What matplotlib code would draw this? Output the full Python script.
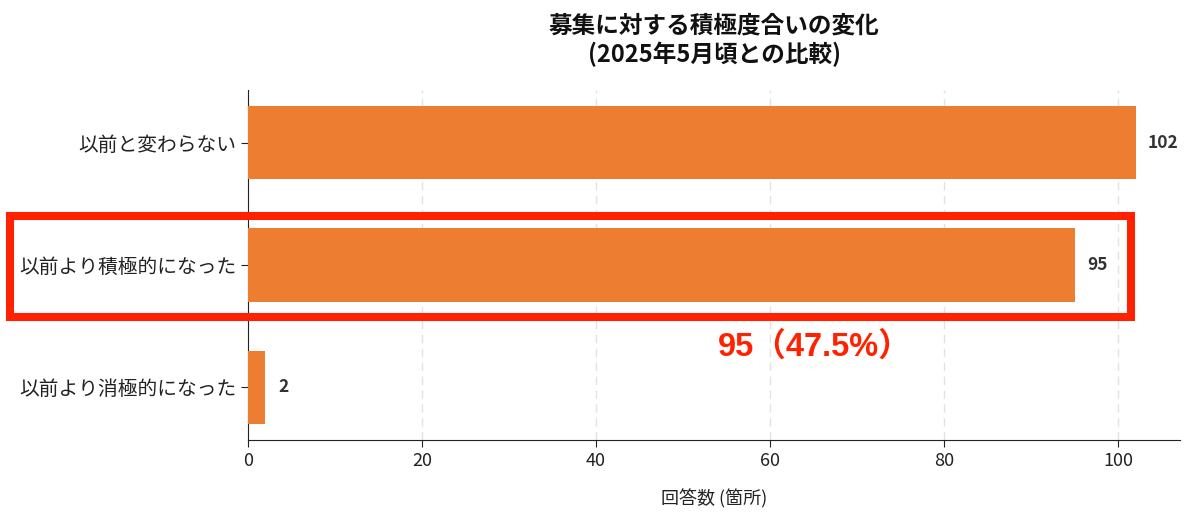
import matplotlib
matplotlib.use("Agg")
import matplotlib.pyplot as plt
from matplotlib.patches import Rectangle

plt.rcParams['font.family'] = ['Noto Sans CJK JP', 'DejaVu Sans']

categories = ["以前より消極的になった", "以前より積極的になった", "以前と変わらない"]
values = [2, 95, 102]
xticks = [0, 20, 40, 60, 80, 100]
title = "募集に対する積極度合いの変化\n(2025年5月頃との比較)"
xlabel = "回答数 (箇所)"
highlight_text = "95（47.5%）"

bar_color = "#ED7D31"
red = "#FF2200"

fig = plt.figure(figsize=(12, 5.28), dpi=100)
ax = fig.add_axes([248/1200, 1-440/528, (1180-248)/1200, (440-90)/528])

ypos = list(range(len(categories)))
ax.barh(ypos, values, height=0.6, color=bar_color, zorder=3)
ax.set_yticks(ypos)
ax.set_yticklabels(categories, fontsize=14.2, color="#222222")
ax.set_xticks(xticks)
ax.set_xticklabels([str(t) for t in xticks], fontsize=13, color="#222222")
ax.set_xlim(0, 107.1)
ax.set_ylim(-0.43, 2.43)

ax.grid(axis='x', linestyle=(0, (6, 4)), color='#e2e2e2', linewidth=1, zorder=0)
ax.set_axisbelow(True)
for s in ['top', 'right']:
    ax.spines[s].set_visible(False)
ax.spines['left'].set_color('#222222')
ax.spines['bottom'].set_color('#222222')
ax.tick_params(axis='both', length=5, color='#222222')

for y, v in zip(ypos, values):
    ax.annotate(str(v), xy=(v, y), xytext=(9, 0), textcoords='offset points',
                ha='left', va='center', fontsize=12.5, fontweight='bold', color='#333333')

ax.set_xlabel(xlabel, fontsize=13, color="#222222", labelpad=14)
ax.set_title(title, fontsize=17, fontweight='bold', pad=20, color="#111111")

rect = Rectangle((10/1200, 1-316.5/528), (1131-10)/1200, (316.5-216)/528,
                 transform=fig.transFigure, fill=False, edgecolor=red,
                 linewidth=5.8, zorder=10, clip_on=False)
fig.patches.append(rect)

fig.text(815/1200, 1-347/528, highlight_text, ha='center', va='center',
         fontsize=23.5, fontweight='bold', color=red,
         family=['Liberation Sans', 'Noto Sans CJK JP'])

fig.savefig("out.png", dpi=100)
